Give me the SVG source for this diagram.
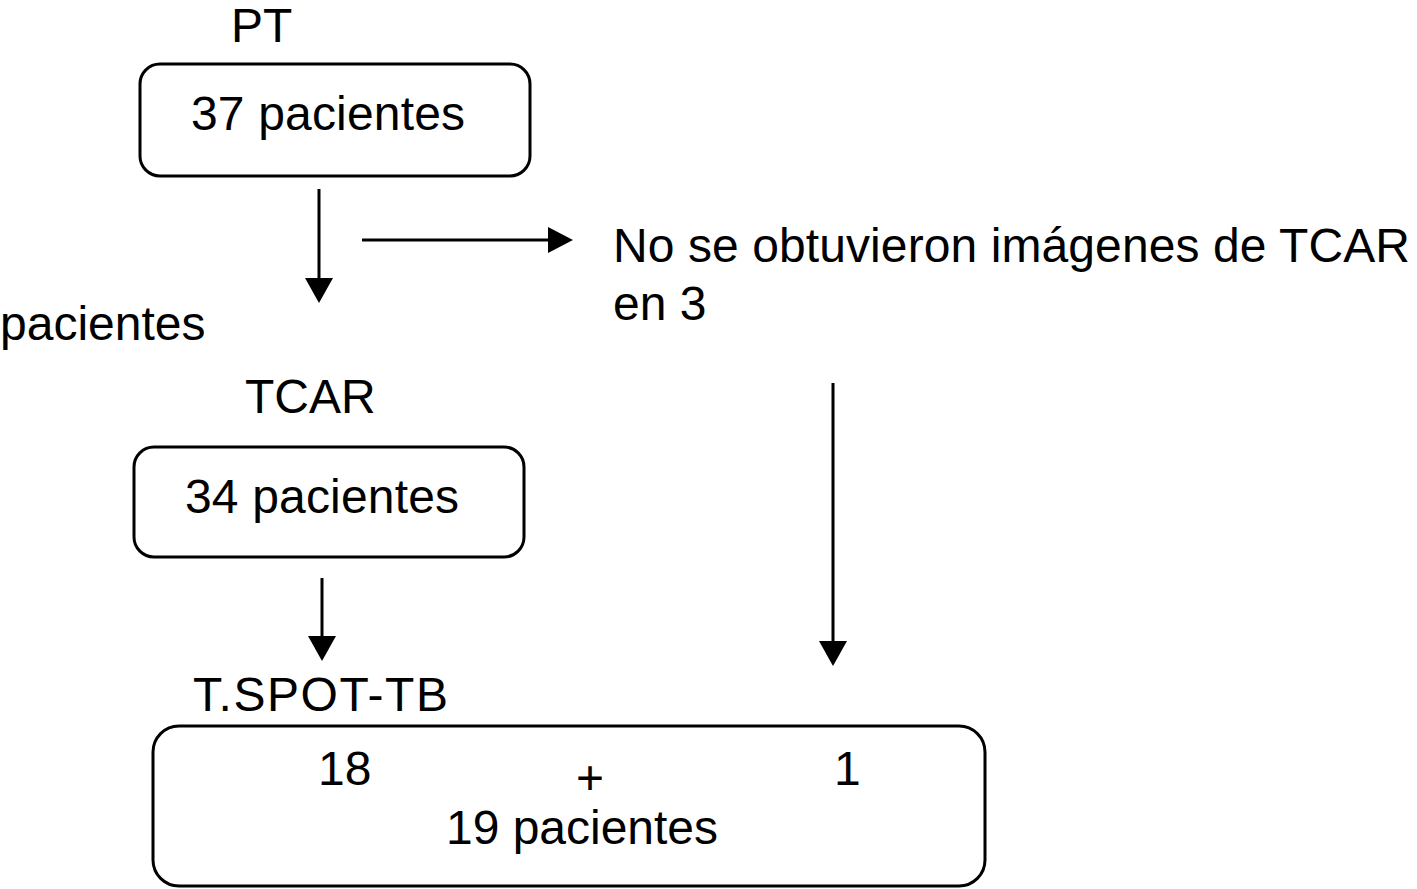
<svg xmlns="http://www.w3.org/2000/svg" width="1417" height="889" viewBox="0 0 1417 889">
<style>
text{font-family:"Liberation Sans",Arial,sans-serif;font-size:48px;fill:#000}
.box{fill:#fff;stroke:#000;stroke-width:3}
.ln{stroke:#000;stroke-width:3;fill:none}
</style>
<rect width="1417" height="889" fill="#fff"/>
<g id="connectors">
<line class="ln" x1="319" y1="189" x2="319" y2="278"/>
<path d="M305,278 L333,278 L319,303 Z" fill="#000"/>
<line class="ln" x1="362" y1="240" x2="548" y2="240"/>
<path d="M548,227 L548,253 L573,240 Z" fill="#000"/>
<line class="ln" x1="322" y1="578" x2="322" y2="636"/>
<path d="M308,636 L336,636 L322,661 Z" fill="#000"/>
<line class="ln" x1="833" y1="383" x2="833" y2="641"/>
<path d="M819,641 L847,641 L833,666 Z" fill="#000"/>
</g>
<g id="pt">
<text x="231" y="42">PT</text>
<rect class="box" x="140" y="64" width="390" height="112" rx="20"/>
<text x="191" y="130" textLength="274">37 pacientes</text>
</g>
<g id="excluded">
<text x="613" y="262" textLength="797">No se obtuvieron imágenes de TCAR</text>
<text x="613" y="320">en 3</text>
</g>
<g id="pacientes-label">
<text x="0" y="340">pacientes</text>
</g>
<g id="tcar">
<text x="245" y="413">TCAR</text>
<rect class="box" x="134" y="447" width="390" height="110" rx="20"/>
<text x="185" y="513" textLength="274">34 pacientes</text>
</g>
<g id="tspot">
<text x="193" y="711" textLength="255">T.SPOT-TB</text>
<rect class="box" x="153" y="726" width="832" height="160" rx="26"/>
<text x="318" y="785">18</text>
<text x="590" y="794" text-anchor="middle">+</text>
<text x="834" y="785">1</text>
<text x="446" y="844" textLength="272">19 pacientes</text>
</g>
</svg>
